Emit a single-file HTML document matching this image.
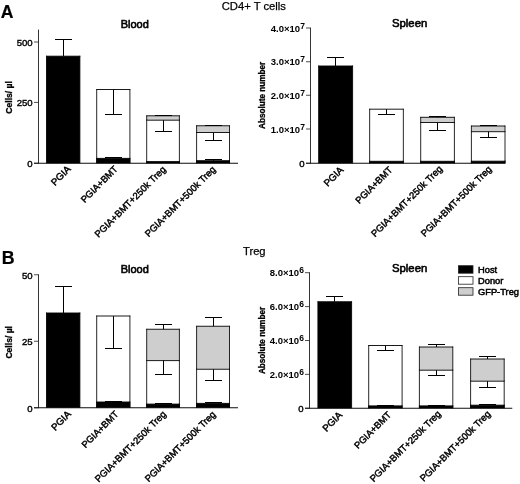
<!DOCTYPE html>
<html lang="en">
<head>
<meta charset="utf-8">
<title>CD4+ T cells and Treg counts in blood and spleen</title>
<style>
html,body{margin:0;padding:0;background:#fff;}
body{width:520px;height:484px;overflow:hidden;}
svg{display:block;filter:blur(0.3px);}
svg text{font-family:"Liberation Sans", Arial, Helvetica, sans-serif;fill:#000;}
</style>
</head>
<body>
<svg width="520" height="484" viewBox="0 0 520 484">
<rect x="0" y="0" width="520" height="484" fill="#fff"/>
<rect x="46.50" y="56.2" width="33.40" height="107.05" fill="#000"/>
<line x1="46.50" y1="55.75" x2="46.50" y2="163.25" stroke="#000" stroke-width="0.85"/>
<line x1="79.90" y1="55.75" x2="79.90" y2="163.25" stroke="#000" stroke-width="0.85"/>
<line x1="46.15" y1="56.20" x2="80.25" y2="56.20" stroke="#000" stroke-width="0.9"/>
<line x1="63.50" y1="56.20" x2="63.50" y2="39.50" stroke="#000" stroke-width="1.0"/>
<line x1="55.00" y1="39.50" x2="72.00" y2="39.50" stroke="#000" stroke-width="1.0"/>
<rect x="96.70" y="89.5" width="33.20" height="73.75" fill="#fff"/>
<line x1="96.70" y1="89.05" x2="96.70" y2="163.25" stroke="#000" stroke-width="0.85"/>
<line x1="129.90" y1="89.05" x2="129.90" y2="163.25" stroke="#000" stroke-width="0.85"/>
<line x1="96.35" y1="89.50" x2="130.25" y2="89.50" stroke="#000" stroke-width="0.9"/>
<rect x="96.70" y="158.4" width="33.20" height="4.85" fill="#000"/>
<line x1="96.70" y1="157.95" x2="96.70" y2="163.25" stroke="#000" stroke-width="0.85"/>
<line x1="129.90" y1="157.95" x2="129.90" y2="163.25" stroke="#000" stroke-width="0.85"/>
<line x1="96.35" y1="158.40" x2="130.25" y2="158.40" stroke="#000" stroke-width="0.9"/>
<line x1="113.50" y1="89.50" x2="113.50" y2="114.50" stroke="#000" stroke-width="1.0"/>
<line x1="105.00" y1="114.50" x2="122.00" y2="114.50" stroke="#000" stroke-width="1.0"/>
<line x1="113.50" y1="158.40" x2="113.50" y2="157.50" stroke="#000" stroke-width="1.0"/>
<line x1="105.00" y1="157.50" x2="122.00" y2="157.50" stroke="#000" stroke-width="1.0"/>
<rect x="146.70" y="115.8" width="32.70" height="4.40" fill="#cecece"/>
<line x1="146.70" y1="115.35" x2="146.70" y2="120.20" stroke="#000" stroke-width="0.85"/>
<line x1="179.40" y1="115.35" x2="179.40" y2="120.20" stroke="#000" stroke-width="0.85"/>
<line x1="146.35" y1="115.80" x2="179.75" y2="115.80" stroke="#000" stroke-width="0.9"/>
<rect x="146.70" y="120.2" width="32.70" height="43.05" fill="#fff"/>
<line x1="146.70" y1="119.75" x2="146.70" y2="163.25" stroke="#000" stroke-width="0.85"/>
<line x1="179.40" y1="119.75" x2="179.40" y2="163.25" stroke="#000" stroke-width="0.85"/>
<line x1="146.35" y1="120.20" x2="179.75" y2="120.20" stroke="#000" stroke-width="0.9"/>
<rect x="146.70" y="161.6" width="32.70" height="1.65" fill="#000"/>
<line x1="146.70" y1="161.15" x2="146.70" y2="163.25" stroke="#000" stroke-width="0.85"/>
<line x1="179.40" y1="161.15" x2="179.40" y2="163.25" stroke="#000" stroke-width="0.85"/>
<line x1="146.35" y1="161.60" x2="179.75" y2="161.60" stroke="#000" stroke-width="0.9"/>
<line x1="163.50" y1="120.20" x2="163.50" y2="131.50" stroke="#000" stroke-width="1.0"/>
<line x1="155.00" y1="131.50" x2="172.00" y2="131.50" stroke="#000" stroke-width="1.0"/>
<line x1="163.50" y1="115.80" x2="163.50" y2="115.50" stroke="#000" stroke-width="1.0"/>
<line x1="155.00" y1="115.50" x2="172.00" y2="115.50" stroke="#000" stroke-width="1.0"/>
<rect x="196.60" y="125.75" width="32.90" height="6.75" fill="#cecece"/>
<line x1="196.60" y1="125.30" x2="196.60" y2="132.50" stroke="#000" stroke-width="0.85"/>
<line x1="229.50" y1="125.30" x2="229.50" y2="132.50" stroke="#000" stroke-width="0.85"/>
<line x1="196.25" y1="125.75" x2="229.85" y2="125.75" stroke="#000" stroke-width="0.9"/>
<rect x="196.60" y="132.5" width="32.90" height="30.75" fill="#fff"/>
<line x1="196.60" y1="132.05" x2="196.60" y2="163.25" stroke="#000" stroke-width="0.85"/>
<line x1="229.50" y1="132.05" x2="229.50" y2="163.25" stroke="#000" stroke-width="0.85"/>
<line x1="196.25" y1="132.50" x2="229.85" y2="132.50" stroke="#000" stroke-width="0.9"/>
<rect x="196.60" y="160.7" width="32.90" height="2.55" fill="#000"/>
<line x1="196.60" y1="160.25" x2="196.60" y2="163.25" stroke="#000" stroke-width="0.85"/>
<line x1="229.50" y1="160.25" x2="229.50" y2="163.25" stroke="#000" stroke-width="0.85"/>
<line x1="196.25" y1="160.70" x2="229.85" y2="160.70" stroke="#000" stroke-width="0.9"/>
<line x1="213.50" y1="132.50" x2="213.50" y2="140.50" stroke="#000" stroke-width="1.0"/>
<line x1="205.00" y1="140.50" x2="222.00" y2="140.50" stroke="#000" stroke-width="1.0"/>
<line x1="213.50" y1="125.75" x2="213.50" y2="125.50" stroke="#000" stroke-width="1.0"/>
<line x1="205.00" y1="125.50" x2="222.00" y2="125.50" stroke="#000" stroke-width="1.0"/>
<line x1="213.50" y1="160.70" x2="213.50" y2="159.50" stroke="#000" stroke-width="1.0"/>
<line x1="205.00" y1="159.50" x2="222.00" y2="159.50" stroke="#000" stroke-width="1.0"/>
<line x1="38.50" y1="29.60" x2="38.50" y2="163.65" stroke="#111" stroke-width="0.85"/>
<line x1="34.00" y1="163.25" x2="238.00" y2="163.25" stroke="#000" stroke-width="0.95"/>
<line x1="34.00" y1="42.00" x2="38.50" y2="42.00" stroke="#222" stroke-width="0.8"/>
<text x="32.7" y="45.85" font-size="9.6" text-anchor="end" font-weight="normal" stroke="#000" stroke-width="0.4" >500</text>
<line x1="34.00" y1="102.40" x2="38.50" y2="102.40" stroke="#222" stroke-width="0.8"/>
<text x="32.7" y="106.25" font-size="9.6" text-anchor="end" font-weight="normal" stroke="#000" stroke-width="0.4" >250</text>
<line x1="34.00" y1="163.25" x2="38.50" y2="163.25" stroke="#222" stroke-width="0.8"/>
<text x="32.7" y="167.1" font-size="9.6" text-anchor="end" font-weight="normal" stroke="#000" stroke-width="0.4" >0</text>
<text transform="translate(12.3,97.4) rotate(-90)" font-size="9.2" font-weight="bold" stroke="#000" stroke-width="0.3" text-anchor="middle" textLength="32.6" lengthAdjust="spacingAndGlyphs">Cells/ µl</text>
<text x="134.8" y="27.6" font-size="11" text-anchor="middle" font-weight="normal" stroke="#000" stroke-width="0.6" >Blood</text>
<text transform="translate(71.4,169.8) rotate(-45)" font-size="9.7" text-anchor="end" stroke="#000" stroke-width="0.45">PGIA</text>
<text transform="translate(118.4,169.6) rotate(-45)" font-size="9.4" text-anchor="end" stroke="#000" stroke-width="0.45">PGIA+BMT</text>
<text transform="translate(166.4,170.0) rotate(-45)" font-size="9.5" text-anchor="end" stroke="#000" stroke-width="0.45">PGIA+BMT+250k Treg</text>
<text transform="translate(216.2,170.0) rotate(-45)" font-size="9.45" text-anchor="end" stroke="#000" stroke-width="0.45">PGIA+BMT+500k Treg</text>
<rect x="318.65" y="66" width="33.95" height="97.25" fill="#000"/>
<line x1="318.65" y1="65.55" x2="318.65" y2="163.25" stroke="#000" stroke-width="0.85"/>
<line x1="352.60" y1="65.55" x2="352.60" y2="163.25" stroke="#000" stroke-width="0.85"/>
<line x1="318.30" y1="66.00" x2="352.95" y2="66.00" stroke="#000" stroke-width="0.9"/>
<line x1="335.50" y1="66.00" x2="335.50" y2="57.50" stroke="#000" stroke-width="1.0"/>
<line x1="327.00" y1="57.50" x2="344.00" y2="57.50" stroke="#000" stroke-width="1.0"/>
<rect x="369.65" y="109.2" width="33.70" height="54.05" fill="#fff"/>
<line x1="369.65" y1="108.75" x2="369.65" y2="163.25" stroke="#000" stroke-width="0.85"/>
<line x1="403.35" y1="108.75" x2="403.35" y2="163.25" stroke="#000" stroke-width="0.85"/>
<line x1="369.30" y1="109.20" x2="403.70" y2="109.20" stroke="#000" stroke-width="0.9"/>
<rect x="369.65" y="161.3" width="33.70" height="1.95" fill="#000"/>
<line x1="369.65" y1="160.85" x2="369.65" y2="163.25" stroke="#000" stroke-width="0.85"/>
<line x1="403.35" y1="160.85" x2="403.35" y2="163.25" stroke="#000" stroke-width="0.85"/>
<line x1="369.30" y1="161.30" x2="403.70" y2="161.30" stroke="#000" stroke-width="0.9"/>
<line x1="386.50" y1="109.20" x2="386.50" y2="114.50" stroke="#000" stroke-width="1.0"/>
<line x1="378.00" y1="114.50" x2="395.00" y2="114.50" stroke="#000" stroke-width="1.0"/>
<rect x="420.70" y="117.3" width="33.70" height="5.20" fill="#cecece"/>
<line x1="420.70" y1="116.85" x2="420.70" y2="122.50" stroke="#000" stroke-width="0.85"/>
<line x1="454.40" y1="116.85" x2="454.40" y2="122.50" stroke="#000" stroke-width="0.85"/>
<line x1="420.35" y1="117.30" x2="454.75" y2="117.30" stroke="#000" stroke-width="0.9"/>
<rect x="420.70" y="122.5" width="33.70" height="40.75" fill="#fff"/>
<line x1="420.70" y1="122.05" x2="420.70" y2="163.25" stroke="#000" stroke-width="0.85"/>
<line x1="454.40" y1="122.05" x2="454.40" y2="163.25" stroke="#000" stroke-width="0.85"/>
<line x1="420.35" y1="122.50" x2="454.75" y2="122.50" stroke="#000" stroke-width="0.9"/>
<rect x="420.70" y="161.3" width="33.70" height="1.95" fill="#000"/>
<line x1="420.70" y1="160.85" x2="420.70" y2="163.25" stroke="#000" stroke-width="0.85"/>
<line x1="454.40" y1="160.85" x2="454.40" y2="163.25" stroke="#000" stroke-width="0.85"/>
<line x1="420.35" y1="161.30" x2="454.75" y2="161.30" stroke="#000" stroke-width="0.9"/>
<line x1="437.50" y1="122.50" x2="437.50" y2="130.50" stroke="#000" stroke-width="1.0"/>
<line x1="429.00" y1="130.50" x2="446.00" y2="130.50" stroke="#000" stroke-width="1.0"/>
<line x1="437.50" y1="117.30" x2="437.50" y2="116.50" stroke="#000" stroke-width="1.0"/>
<line x1="429.00" y1="116.50" x2="446.00" y2="116.50" stroke="#000" stroke-width="1.0"/>
<rect x="471.40" y="126" width="33.60" height="5.70" fill="#cecece"/>
<line x1="471.40" y1="125.55" x2="471.40" y2="131.70" stroke="#000" stroke-width="0.85"/>
<line x1="505.00" y1="125.55" x2="505.00" y2="131.70" stroke="#000" stroke-width="0.85"/>
<line x1="471.05" y1="126.00" x2="505.35" y2="126.00" stroke="#000" stroke-width="0.9"/>
<rect x="471.40" y="131.7" width="33.60" height="31.55" fill="#fff"/>
<line x1="471.40" y1="131.25" x2="471.40" y2="163.25" stroke="#000" stroke-width="0.85"/>
<line x1="505.00" y1="131.25" x2="505.00" y2="163.25" stroke="#000" stroke-width="0.85"/>
<line x1="471.05" y1="131.70" x2="505.35" y2="131.70" stroke="#000" stroke-width="0.9"/>
<rect x="471.40" y="161.2" width="33.60" height="2.05" fill="#000"/>
<line x1="471.40" y1="160.75" x2="471.40" y2="163.25" stroke="#000" stroke-width="0.85"/>
<line x1="505.00" y1="160.75" x2="505.00" y2="163.25" stroke="#000" stroke-width="0.85"/>
<line x1="471.05" y1="161.20" x2="505.35" y2="161.20" stroke="#000" stroke-width="0.9"/>
<line x1="488.50" y1="131.70" x2="488.50" y2="137.50" stroke="#000" stroke-width="1.0"/>
<line x1="480.00" y1="137.50" x2="497.00" y2="137.50" stroke="#000" stroke-width="1.0"/>
<line x1="488.50" y1="126.00" x2="488.50" y2="125.50" stroke="#000" stroke-width="1.0"/>
<line x1="480.00" y1="125.50" x2="497.00" y2="125.50" stroke="#000" stroke-width="1.0"/>
<line x1="310.50" y1="27.60" x2="310.50" y2="163.65" stroke="#111" stroke-width="0.85"/>
<line x1="306.00" y1="163.25" x2="505.40" y2="163.25" stroke="#000" stroke-width="0.95"/>
<line x1="306.00" y1="28.00" x2="310.50" y2="28.00" stroke="#222" stroke-width="0.8"/>
<text x="304.9" y="31.6" font-size="9.5" text-anchor="end" font-weight="bold" stroke="#000" stroke-width="0.0" >4.0×10<tspan dy="-3.1" font-size="8.5">7</tspan></text>
<line x1="306.00" y1="61.75" x2="310.50" y2="61.75" stroke="#222" stroke-width="0.8"/>
<text x="304.9" y="65.35" font-size="9.5" text-anchor="end" font-weight="bold" stroke="#000" stroke-width="0.0" >3.0×10<tspan dy="-3.1" font-size="8.5">7</tspan></text>
<line x1="306.00" y1="95.25" x2="310.50" y2="95.25" stroke="#222" stroke-width="0.8"/>
<text x="304.9" y="98.85" font-size="9.5" text-anchor="end" font-weight="bold" stroke="#000" stroke-width="0.0" >2.0×10<tspan dy="-3.1" font-size="8.5">7</tspan></text>
<line x1="306.00" y1="129.00" x2="310.50" y2="129.00" stroke="#222" stroke-width="0.8"/>
<text x="304.9" y="132.6" font-size="9.5" text-anchor="end" font-weight="bold" stroke="#000" stroke-width="0.0" >1.0×10<tspan dy="-3.1" font-size="8.5">7</tspan></text>
<line x1="306.00" y1="163.25" x2="310.50" y2="163.25" stroke="#222" stroke-width="0.8"/>
<text x="304.7" y="167.1" font-size="9.6" text-anchor="end" font-weight="normal" stroke="#000" stroke-width="0.4" >0</text>
<text transform="translate(265.2,95.3) rotate(-90)" font-size="9.2" font-weight="bold" stroke="#000" stroke-width="0.3" text-anchor="middle" textLength="67.2" lengthAdjust="spacingAndGlyphs">Absolute number</text>
<text x="409.6" y="26.8" font-size="11.35" text-anchor="middle" font-weight="normal" stroke="#000" stroke-width="0.6" >Spleen</text>
<text transform="translate(344.1,170.6) rotate(-45)" font-size="9.7" text-anchor="end" stroke="#000" stroke-width="0.45">PGIA</text>
<text transform="translate(393.0,170.5) rotate(-45)" font-size="9.4" text-anchor="end" stroke="#000" stroke-width="0.45">PGIA+BMT</text>
<text transform="translate(443.0,169.6) rotate(-45)" font-size="9.5" text-anchor="end" stroke="#000" stroke-width="0.45">PGIA+BMT+250k Treg</text>
<text transform="translate(492.2,169.8) rotate(-45)" font-size="9.45" text-anchor="end" stroke="#000" stroke-width="0.45">PGIA+BMT+500k Treg</text>
<rect x="46.50" y="313" width="33.40" height="94.75" fill="#000"/>
<line x1="46.50" y1="312.55" x2="46.50" y2="407.75" stroke="#000" stroke-width="0.85"/>
<line x1="79.90" y1="312.55" x2="79.90" y2="407.75" stroke="#000" stroke-width="0.85"/>
<line x1="46.15" y1="313.00" x2="80.25" y2="313.00" stroke="#000" stroke-width="0.9"/>
<line x1="63.50" y1="313.00" x2="63.50" y2="286.50" stroke="#000" stroke-width="1.0"/>
<line x1="55.00" y1="286.50" x2="72.00" y2="286.50" stroke="#000" stroke-width="1.0"/>
<rect x="96.70" y="316" width="33.20" height="91.75" fill="#fff"/>
<line x1="96.70" y1="315.55" x2="96.70" y2="407.75" stroke="#000" stroke-width="0.85"/>
<line x1="129.90" y1="315.55" x2="129.90" y2="407.75" stroke="#000" stroke-width="0.85"/>
<line x1="96.35" y1="316.00" x2="130.25" y2="316.00" stroke="#000" stroke-width="0.9"/>
<rect x="96.70" y="402" width="33.20" height="5.75" fill="#000"/>
<line x1="96.70" y1="401.55" x2="96.70" y2="407.75" stroke="#000" stroke-width="0.85"/>
<line x1="129.90" y1="401.55" x2="129.90" y2="407.75" stroke="#000" stroke-width="0.85"/>
<line x1="96.35" y1="402.00" x2="130.25" y2="402.00" stroke="#000" stroke-width="0.9"/>
<line x1="113.50" y1="316.00" x2="113.50" y2="348.50" stroke="#000" stroke-width="1.0"/>
<line x1="105.00" y1="348.50" x2="122.00" y2="348.50" stroke="#000" stroke-width="1.0"/>
<line x1="113.50" y1="402.00" x2="113.50" y2="401.50" stroke="#000" stroke-width="1.0"/>
<line x1="105.00" y1="401.50" x2="122.00" y2="401.50" stroke="#000" stroke-width="1.0"/>
<rect x="146.70" y="329.25" width="32.70" height="31.35" fill="#cecece"/>
<line x1="146.70" y1="328.80" x2="146.70" y2="360.60" stroke="#000" stroke-width="0.85"/>
<line x1="179.40" y1="328.80" x2="179.40" y2="360.60" stroke="#000" stroke-width="0.85"/>
<line x1="146.35" y1="329.25" x2="179.75" y2="329.25" stroke="#000" stroke-width="0.9"/>
<rect x="146.70" y="360.6" width="32.70" height="47.15" fill="#fff"/>
<line x1="146.70" y1="360.15" x2="146.70" y2="407.75" stroke="#000" stroke-width="0.85"/>
<line x1="179.40" y1="360.15" x2="179.40" y2="407.75" stroke="#000" stroke-width="0.85"/>
<line x1="146.35" y1="360.60" x2="179.75" y2="360.60" stroke="#000" stroke-width="0.9"/>
<rect x="146.70" y="404.1" width="32.70" height="3.65" fill="#000"/>
<line x1="146.70" y1="403.65" x2="146.70" y2="407.75" stroke="#000" stroke-width="0.85"/>
<line x1="179.40" y1="403.65" x2="179.40" y2="407.75" stroke="#000" stroke-width="0.85"/>
<line x1="146.35" y1="404.10" x2="179.75" y2="404.10" stroke="#000" stroke-width="0.9"/>
<line x1="163.50" y1="329.25" x2="163.50" y2="324.50" stroke="#000" stroke-width="1.0"/>
<line x1="155.00" y1="324.50" x2="172.00" y2="324.50" stroke="#000" stroke-width="1.0"/>
<line x1="163.50" y1="360.50" x2="163.50" y2="374.50" stroke="#000" stroke-width="1.0"/>
<line x1="155.00" y1="374.50" x2="172.00" y2="374.50" stroke="#000" stroke-width="1.0"/>
<line x1="163.50" y1="403.75" x2="163.50" y2="403.50" stroke="#000" stroke-width="1.0"/>
<line x1="155.00" y1="403.50" x2="172.00" y2="403.50" stroke="#000" stroke-width="1.0"/>
<rect x="196.60" y="326.25" width="32.90" height="43.00" fill="#cecece"/>
<line x1="196.60" y1="325.80" x2="196.60" y2="369.25" stroke="#000" stroke-width="0.85"/>
<line x1="229.50" y1="325.80" x2="229.50" y2="369.25" stroke="#000" stroke-width="0.85"/>
<line x1="196.25" y1="326.25" x2="229.85" y2="326.25" stroke="#000" stroke-width="0.9"/>
<rect x="196.60" y="369.25" width="32.90" height="38.50" fill="#fff"/>
<line x1="196.60" y1="368.80" x2="196.60" y2="407.75" stroke="#000" stroke-width="0.85"/>
<line x1="229.50" y1="368.80" x2="229.50" y2="407.75" stroke="#000" stroke-width="0.85"/>
<line x1="196.25" y1="369.25" x2="229.85" y2="369.25" stroke="#000" stroke-width="0.9"/>
<rect x="196.60" y="403.4" width="32.90" height="4.35" fill="#000"/>
<line x1="196.60" y1="402.95" x2="196.60" y2="407.75" stroke="#000" stroke-width="0.85"/>
<line x1="229.50" y1="402.95" x2="229.50" y2="407.75" stroke="#000" stroke-width="0.85"/>
<line x1="196.25" y1="403.40" x2="229.85" y2="403.40" stroke="#000" stroke-width="0.9"/>
<line x1="213.50" y1="326.25" x2="213.50" y2="317.50" stroke="#000" stroke-width="1.0"/>
<line x1="205.00" y1="317.50" x2="222.00" y2="317.50" stroke="#000" stroke-width="1.0"/>
<line x1="213.50" y1="369.25" x2="213.50" y2="380.50" stroke="#000" stroke-width="1.0"/>
<line x1="205.00" y1="380.50" x2="222.00" y2="380.50" stroke="#000" stroke-width="1.0"/>
<line x1="213.50" y1="403.00" x2="213.50" y2="402.50" stroke="#000" stroke-width="1.0"/>
<line x1="205.00" y1="402.50" x2="222.00" y2="402.50" stroke="#000" stroke-width="1.0"/>
<line x1="38.50" y1="274.35" x2="38.50" y2="408.15" stroke="#111" stroke-width="0.85"/>
<line x1="34.00" y1="407.75" x2="238.00" y2="407.75" stroke="#000" stroke-width="0.95"/>
<line x1="34.00" y1="274.75" x2="38.50" y2="274.75" stroke="#222" stroke-width="0.8"/>
<text x="32.7" y="278.6" font-size="9.6" text-anchor="end" font-weight="normal" stroke="#000" stroke-width="0.4" >50</text>
<line x1="34.00" y1="341.25" x2="38.50" y2="341.25" stroke="#222" stroke-width="0.8"/>
<text x="32.7" y="345.1" font-size="9.6" text-anchor="end" font-weight="normal" stroke="#000" stroke-width="0.4" >25</text>
<line x1="34.00" y1="407.75" x2="38.50" y2="407.75" stroke="#222" stroke-width="0.8"/>
<text x="32.7" y="411.6" font-size="9.6" text-anchor="end" font-weight="normal" stroke="#000" stroke-width="0.4" >0</text>
<text transform="translate(12.3,342.3) rotate(-90)" font-size="9.2" font-weight="bold" stroke="#000" stroke-width="0.3" text-anchor="middle" textLength="32.6" lengthAdjust="spacingAndGlyphs">Cells/ µl</text>
<text x="134.8" y="272.6" font-size="11" text-anchor="middle" font-weight="normal" stroke="#000" stroke-width="0.6" >Blood</text>
<text transform="translate(71.6,414.8) rotate(-45)" font-size="9.7" text-anchor="end" stroke="#000" stroke-width="0.45">PGIA</text>
<text transform="translate(119.1,414.8) rotate(-45)" font-size="9.4" text-anchor="end" stroke="#000" stroke-width="0.45">PGIA+BMT</text>
<text transform="translate(166.8,414.8) rotate(-45)" font-size="9.5" text-anchor="end" stroke="#000" stroke-width="0.45">PGIA+BMT+250k Treg</text>
<text transform="translate(216.2,415.0) rotate(-45)" font-size="9.45" text-anchor="end" stroke="#000" stroke-width="0.45">PGIA+BMT+500k Treg</text>
<rect x="317.90" y="301.75" width="33.70" height="106.50" fill="#000"/>
<line x1="317.90" y1="301.30" x2="317.90" y2="408.25" stroke="#000" stroke-width="0.85"/>
<line x1="351.60" y1="301.30" x2="351.60" y2="408.25" stroke="#000" stroke-width="0.85"/>
<line x1="317.55" y1="301.75" x2="351.95" y2="301.75" stroke="#000" stroke-width="0.9"/>
<line x1="334.50" y1="301.75" x2="334.50" y2="296.50" stroke="#000" stroke-width="1.0"/>
<line x1="326.00" y1="296.50" x2="343.00" y2="296.50" stroke="#000" stroke-width="1.0"/>
<rect x="368.70" y="345.5" width="33.40" height="62.75" fill="#fff"/>
<line x1="368.70" y1="345.05" x2="368.70" y2="408.25" stroke="#000" stroke-width="0.85"/>
<line x1="402.10" y1="345.05" x2="402.10" y2="408.25" stroke="#000" stroke-width="0.85"/>
<line x1="368.35" y1="345.50" x2="402.45" y2="345.50" stroke="#000" stroke-width="0.9"/>
<rect x="368.70" y="405.9" width="33.40" height="2.35" fill="#000"/>
<line x1="368.70" y1="405.45" x2="368.70" y2="408.25" stroke="#000" stroke-width="0.85"/>
<line x1="402.10" y1="405.45" x2="402.10" y2="408.25" stroke="#000" stroke-width="0.85"/>
<line x1="368.35" y1="405.90" x2="402.45" y2="405.90" stroke="#000" stroke-width="0.9"/>
<line x1="385.50" y1="345.50" x2="385.50" y2="350.50" stroke="#000" stroke-width="1.0"/>
<line x1="377.00" y1="350.50" x2="394.00" y2="350.50" stroke="#000" stroke-width="1.0"/>
<line x1="385.50" y1="405.90" x2="385.50" y2="405.50" stroke="#000" stroke-width="1.0"/>
<line x1="377.00" y1="405.50" x2="394.00" y2="405.50" stroke="#000" stroke-width="1.0"/>
<rect x="419.40" y="347" width="33.40" height="23.20" fill="#cecece"/>
<line x1="419.40" y1="346.55" x2="419.40" y2="370.20" stroke="#000" stroke-width="0.85"/>
<line x1="452.80" y1="346.55" x2="452.80" y2="370.20" stroke="#000" stroke-width="0.85"/>
<line x1="419.05" y1="347.00" x2="453.15" y2="347.00" stroke="#000" stroke-width="0.9"/>
<rect x="419.40" y="370.2" width="33.40" height="38.05" fill="#fff"/>
<line x1="419.40" y1="369.75" x2="419.40" y2="408.25" stroke="#000" stroke-width="0.85"/>
<line x1="452.80" y1="369.75" x2="452.80" y2="408.25" stroke="#000" stroke-width="0.85"/>
<line x1="419.05" y1="370.20" x2="453.15" y2="370.20" stroke="#000" stroke-width="0.9"/>
<rect x="419.40" y="405.9" width="33.40" height="2.35" fill="#000"/>
<line x1="419.40" y1="405.45" x2="419.40" y2="408.25" stroke="#000" stroke-width="0.85"/>
<line x1="452.80" y1="405.45" x2="452.80" y2="408.25" stroke="#000" stroke-width="0.85"/>
<line x1="419.05" y1="405.90" x2="453.15" y2="405.90" stroke="#000" stroke-width="0.9"/>
<line x1="436.50" y1="347.00" x2="436.50" y2="344.50" stroke="#000" stroke-width="1.0"/>
<line x1="428.00" y1="344.50" x2="445.00" y2="344.50" stroke="#000" stroke-width="1.0"/>
<line x1="436.50" y1="370.20" x2="436.50" y2="375.50" stroke="#000" stroke-width="1.0"/>
<line x1="428.00" y1="375.50" x2="445.00" y2="375.50" stroke="#000" stroke-width="1.0"/>
<line x1="436.50" y1="405.90" x2="436.50" y2="405.50" stroke="#000" stroke-width="1.0"/>
<line x1="428.00" y1="405.50" x2="445.00" y2="405.50" stroke="#000" stroke-width="1.0"/>
<rect x="470.60" y="359" width="33.60" height="22.20" fill="#cecece"/>
<line x1="470.60" y1="358.55" x2="470.60" y2="381.20" stroke="#000" stroke-width="0.85"/>
<line x1="504.20" y1="358.55" x2="504.20" y2="381.20" stroke="#000" stroke-width="0.85"/>
<line x1="470.25" y1="359.00" x2="504.55" y2="359.00" stroke="#000" stroke-width="0.9"/>
<rect x="470.60" y="381.2" width="33.60" height="27.05" fill="#fff"/>
<line x1="470.60" y1="380.75" x2="470.60" y2="408.25" stroke="#000" stroke-width="0.85"/>
<line x1="504.20" y1="380.75" x2="504.20" y2="408.25" stroke="#000" stroke-width="0.85"/>
<line x1="470.25" y1="381.20" x2="504.55" y2="381.20" stroke="#000" stroke-width="0.9"/>
<rect x="470.60" y="405.2" width="33.60" height="3.05" fill="#000"/>
<line x1="470.60" y1="404.75" x2="470.60" y2="408.25" stroke="#000" stroke-width="0.85"/>
<line x1="504.20" y1="404.75" x2="504.20" y2="408.25" stroke="#000" stroke-width="0.85"/>
<line x1="470.25" y1="405.20" x2="504.55" y2="405.20" stroke="#000" stroke-width="0.9"/>
<line x1="487.50" y1="359.00" x2="487.50" y2="356.50" stroke="#000" stroke-width="1.0"/>
<line x1="479.00" y1="356.50" x2="496.00" y2="356.50" stroke="#000" stroke-width="1.0"/>
<line x1="487.50" y1="381.20" x2="487.50" y2="387.50" stroke="#000" stroke-width="1.0"/>
<line x1="479.00" y1="387.50" x2="496.00" y2="387.50" stroke="#000" stroke-width="1.0"/>
<line x1="487.50" y1="405.20" x2="487.50" y2="404.50" stroke="#000" stroke-width="1.0"/>
<line x1="479.00" y1="404.50" x2="496.00" y2="404.50" stroke="#000" stroke-width="1.0"/>
<line x1="309.50" y1="272.30" x2="309.50" y2="408.65" stroke="#111" stroke-width="0.85"/>
<line x1="305.00" y1="408.25" x2="512.30" y2="408.25" stroke="#000" stroke-width="0.95"/>
<line x1="305.00" y1="272.70" x2="309.50" y2="272.70" stroke="#222" stroke-width="0.8"/>
<text x="303.9" y="276.3" font-size="9.5" text-anchor="end" font-weight="bold" stroke="#000" stroke-width="0.0" >8.0×10<tspan dy="-3.1" font-size="8.5">6</tspan></text>
<line x1="305.00" y1="306.60" x2="309.50" y2="306.60" stroke="#222" stroke-width="0.8"/>
<text x="303.9" y="310.20000000000005" font-size="9.5" text-anchor="end" font-weight="bold" stroke="#000" stroke-width="0.0" >6.0×10<tspan dy="-3.1" font-size="8.5">6</tspan></text>
<line x1="305.00" y1="340.50" x2="309.50" y2="340.50" stroke="#222" stroke-width="0.8"/>
<text x="303.9" y="344.1" font-size="9.5" text-anchor="end" font-weight="bold" stroke="#000" stroke-width="0.0" >4.0×10<tspan dy="-3.1" font-size="8.5">6</tspan></text>
<line x1="305.00" y1="374.35" x2="309.50" y2="374.35" stroke="#222" stroke-width="0.8"/>
<text x="303.9" y="377.95000000000005" font-size="9.5" text-anchor="end" font-weight="bold" stroke="#000" stroke-width="0.0" >2.0×10<tspan dy="-3.1" font-size="8.5">6</tspan></text>
<line x1="305.00" y1="408.25" x2="309.50" y2="408.25" stroke="#222" stroke-width="0.8"/>
<text x="303.7" y="412.1" font-size="9.6" text-anchor="end" font-weight="normal" stroke="#000" stroke-width="0.4" >0</text>
<text transform="translate(265.2,340.5) rotate(-90)" font-size="9.2" font-weight="bold" stroke="#000" stroke-width="0.3" text-anchor="middle" textLength="67.2" lengthAdjust="spacingAndGlyphs">Absolute number</text>
<text x="409.6" y="271.5" font-size="11.35" text-anchor="middle" font-weight="normal" stroke="#000" stroke-width="0.6" >Spleen</text>
<text transform="translate(342.8,415.8) rotate(-45)" font-size="9.7" text-anchor="end" stroke="#000" stroke-width="0.45">PGIA</text>
<text transform="translate(391.7,415.5) rotate(-45)" font-size="9.4" text-anchor="end" stroke="#000" stroke-width="0.45">PGIA+BMT</text>
<text transform="translate(441.6,414.6) rotate(-45)" font-size="9.5" text-anchor="end" stroke="#000" stroke-width="0.45">PGIA+BMT+250k Treg</text>
<text transform="translate(491.2,414.6) rotate(-45)" font-size="9.45" text-anchor="end" stroke="#000" stroke-width="0.45">PGIA+BMT+500k Treg</text>
<text x="253.8" y="10.1" font-size="11.25" text-anchor="middle" font-weight="normal" stroke="#000" stroke-width="0.25" >CD4+ T cells</text>
<text x="254.3" y="255.4" font-size="11.2" text-anchor="middle" font-weight="normal" stroke="#000" stroke-width="0.25" >Treg</text>
<text x="0.8" y="17.7" font-size="17.6" text-anchor="start" font-weight="bold" stroke="#000" stroke-width="0.2" >A</text>
<text x="1.8" y="264.2" font-size="17.8" text-anchor="start" font-weight="bold" stroke="#000" stroke-width="0.2" >B</text>
<rect x="458.4" y="265.7" width="14.60" height="7.50" fill="#000" stroke="#222" stroke-width="0.8"/>
<text x="478.0" y="273.2" font-size="9.3" text-anchor="start" font-weight="normal" stroke="#000" stroke-width="0.5" >Host</text>
<rect x="458.4" y="276.7" width="14.60" height="7.50" fill="#fff" stroke="#222" stroke-width="0.8"/>
<text x="478.0" y="284.2" font-size="9.3" text-anchor="start" font-weight="normal" stroke="#000" stroke-width="0.5" >Donor</text>
<rect x="458.4" y="287.7" width="14.60" height="7.50" fill="#cecece" stroke="#222" stroke-width="0.8"/>
<text x="478.0" y="295.2" font-size="9.3" text-anchor="start" font-weight="normal" stroke="#000" stroke-width="0.5" >GFP-Treg</text>
</svg>
</body>
</html>
